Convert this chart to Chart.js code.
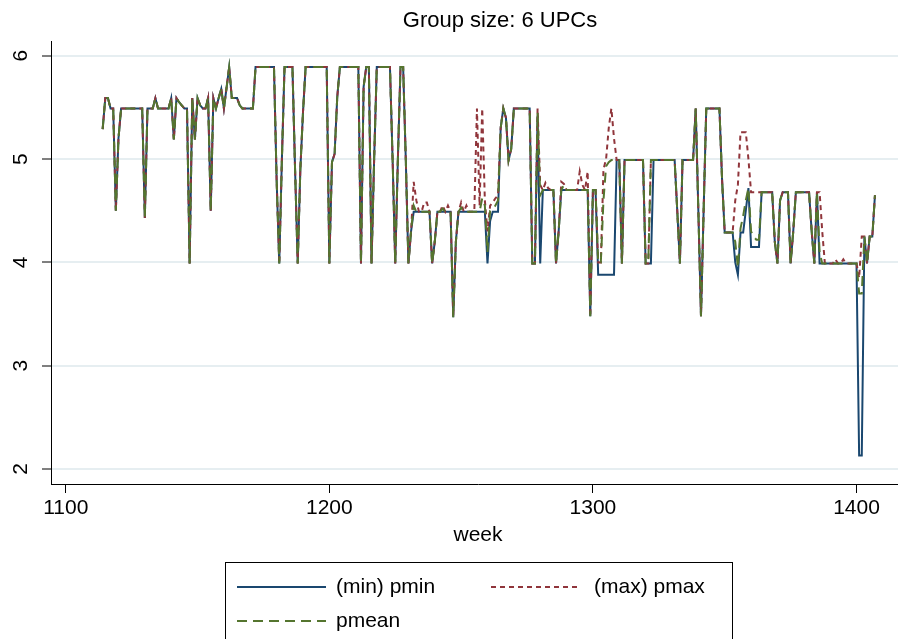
<!DOCTYPE html>
<html>
<head>
<meta charset="utf-8">
<title>Group size: 6 UPCs</title>
<script src="https://cdn.jsdelivr.net/npm/chart.js@4.4.0/dist/chart.umd.min.js"></script>
<style>
  html, body { margin: 0; padding: 0; background: #fff; overflow: hidden; }
  #wrap { width: 898px; height: 639px; overflow: hidden; }
</style>
</head>
<body>
<div id="wrap"><canvas id="chart1" width="905" height="639"></canvas></div>
<script>
// weeks 1114 .. 1407, one row of ten per line
const weeks = [
    1114, 1115, 1116, 1117, 1118, 1119, 1120, 1121, 1122, 1123,
    1124, 1125, 1126, 1127, 1128, 1129, 1130, 1131, 1132, 1133,
    1134, 1135, 1136, 1137, 1138, 1139, 1140, 1141, 1142, 1143,
    1144, 1145, 1146, 1147, 1148, 1149, 1150, 1151, 1152, 1153,
    1154, 1155, 1156, 1157, 1158, 1159, 1160, 1161, 1162, 1163,
    1164, 1165, 1166, 1167, 1168, 1169, 1170, 1171, 1172, 1173,
    1174, 1175, 1176, 1177, 1178, 1179, 1180, 1181, 1182, 1183,
    1184, 1185, 1186, 1187, 1188, 1189, 1190, 1191, 1192, 1193,
    1194, 1195, 1196, 1197, 1198, 1199, 1200, 1201, 1202, 1203,
    1204, 1205, 1206, 1207, 1208, 1209, 1210, 1211, 1212, 1213,
    1214, 1215, 1216, 1217, 1218, 1219, 1220, 1221, 1222, 1223,
    1224, 1225, 1226, 1227, 1228, 1229, 1230, 1231, 1232, 1233,
    1234, 1235, 1236, 1237, 1238, 1239, 1240, 1241, 1242, 1243,
    1244, 1245, 1246, 1247, 1248, 1249, 1250, 1251, 1252, 1253,
    1254, 1255, 1256, 1257, 1258, 1259, 1260, 1261, 1262, 1263,
    1264, 1265, 1266, 1267, 1268, 1269, 1270, 1271, 1272, 1273,
    1274, 1275, 1276, 1277, 1278, 1279, 1280, 1281, 1282, 1283,
    1284, 1285, 1286, 1287, 1288, 1289, 1290, 1291, 1292, 1293,
    1294, 1295, 1296, 1297, 1298, 1299, 1300, 1301, 1302, 1303,
    1304, 1305, 1306, 1307, 1308, 1309, 1310, 1311, 1312, 1313,
    1314, 1315, 1316, 1317, 1318, 1319, 1320, 1321, 1322, 1323,
    1324, 1325, 1326, 1327, 1328, 1329, 1330, 1331, 1332, 1333,
    1334, 1335, 1336, 1337, 1338, 1339, 1340, 1341, 1342, 1343,
    1344, 1345, 1346, 1347, 1348, 1349, 1350, 1351, 1352, 1353,
    1354, 1355, 1356, 1357, 1358, 1359, 1360, 1361, 1362, 1363,
    1364, 1365, 1366, 1367, 1368, 1369, 1370, 1371, 1372, 1373,
    1374, 1375, 1376, 1377, 1378, 1379, 1380, 1381, 1382, 1383,
    1384, 1385, 1386, 1387, 1388, 1389, 1390, 1391, 1392, 1393,
    1394, 1395, 1396, 1397, 1398, 1399, 1400, 1401, 1402, 1403,
    1404, 1405, 1406, 1407
];

const pmin = [
    5.29, 5.59, 5.59, 5.49, 5.49, 4.50, 5.20, 5.49, 5.49, 5.49,
    5.49, 5.49, 5.49, 5.49, 5.49, 5.49, 4.43, 5.49, 5.49, 5.49,
    5.59, 5.49, 5.49, 5.49, 5.49, 5.49, 5.59, 5.19, 5.59, 5.55,
    5.52, 5.49, 5.49, 3.99, 5.59, 5.19, 5.59, 5.52, 5.49, 5.49,
    5.59, 4.50, 5.59, 5.49, 5.59, 5.68, 5.49, 5.69, 5.89, 5.59,
    5.59, 5.59, 5.52, 5.49, 5.49, 5.49, 5.49, 5.49, 5.89, 5.89,
    5.89, 5.89, 5.89, 5.89, 5.89, 5.89, 4.80, 3.99, 5.00, 5.89,
    5.89, 5.89, 5.89, 4.90, 3.99, 4.90, 5.45, 5.89, 5.89, 5.89,
    5.89, 5.89, 5.89, 5.89, 5.89, 5.89, 3.99, 4.97, 5.05, 5.60,
    5.89, 5.89, 5.89, 5.89, 5.89, 5.89, 5.89, 5.89, 3.99, 5.70,
    5.89, 5.89, 3.99, 5.00, 5.89, 5.89, 5.89, 5.89, 5.89, 5.89,
    5.00, 3.99, 5.00, 5.89, 5.89, 5.00, 3.99, 4.30, 4.49, 4.49,
    4.49, 4.49, 4.49, 4.49, 4.49, 3.99, 4.20, 4.49, 4.49, 4.49,
    4.49, 4.49, 4.49, 3.47, 4.20, 4.49, 4.49, 4.49, 4.49, 4.49,
    4.49, 4.49, 4.49, 4.49, 4.49, 4.49, 3.99, 4.40, 4.49, 4.49,
    4.49, 5.30, 5.49, 5.40, 4.99, 5.10, 5.49, 5.49, 5.49, 5.49,
    5.49, 5.49, 5.49, 3.99, 3.99, 5.42, 3.99, 4.70, 4.70, 4.70,
    4.70, 4.70, 3.99, 4.30, 4.70, 4.70, 4.70, 4.70, 4.70, 4.70,
    4.70, 4.70, 4.70, 4.70, 4.70, 3.48, 4.70, 4.70, 3.88, 3.88,
    3.88, 3.88, 3.88, 3.88, 3.88, 4.99, 4.99, 3.99, 4.99, 4.99,
    4.99, 4.99, 4.99, 4.99, 4.99, 4.99, 3.99, 3.99, 3.99, 4.99,
    4.99, 4.99, 4.99, 4.99, 4.99, 4.99, 4.99, 4.99, 4.50, 3.99,
    4.99, 4.99, 4.99, 4.99, 4.99, 5.49, 4.50, 3.48, 4.50, 5.49,
    5.49, 5.49, 5.49, 5.49, 5.49, 4.80, 4.29, 4.29, 4.29, 4.29,
    4.00, 3.88, 4.29, 4.29, 4.50, 4.72, 4.15, 4.15, 4.15, 4.15,
    4.68, 4.68, 4.68, 4.68, 4.68, 4.20, 3.99, 4.60, 4.68, 4.68,
    4.68, 3.99, 4.30, 4.68, 4.68, 4.68, 4.68, 4.68, 4.68, 4.30,
    3.99, 4.68, 3.99, 3.99, 3.99, 3.99, 3.99, 3.99, 3.99, 3.99,
    3.99, 3.99, 3.99, 3.99, 3.99, 3.99, 3.99, 2.13, 2.13, 4.25,
    3.99, 4.25, 4.25, 4.65
];

const pmax = [
    5.29, 5.59, 5.59, 5.49, 5.49, 4.50, 5.20, 5.49, 5.49, 5.49,
    5.49, 5.49, 5.49, 5.49, 5.49, 5.49, 4.43, 5.49, 5.49, 5.49,
    5.59, 5.49, 5.49, 5.49, 5.49, 5.49, 5.59, 5.19, 5.59, 5.55,
    5.52, 5.49, 5.49, 3.99, 5.59, 5.19, 5.59, 5.52, 5.49, 5.49,
    5.59, 4.50, 5.59, 5.49, 5.59, 5.68, 5.49, 5.69, 5.89, 5.59,
    5.59, 5.59, 5.52, 5.49, 5.49, 5.49, 5.49, 5.49, 5.89, 5.89,
    5.89, 5.89, 5.89, 5.89, 5.89, 5.89, 4.80, 3.99, 5.00, 5.89,
    5.89, 5.89, 5.89, 4.90, 3.99, 4.90, 5.45, 5.89, 5.89, 5.89,
    5.89, 5.89, 5.89, 5.89, 5.89, 5.89, 3.99, 4.97, 5.05, 5.60,
    5.89, 5.89, 5.89, 5.89, 5.89, 5.89, 5.89, 5.89, 3.99, 5.70,
    5.89, 5.89, 3.99, 5.00, 5.89, 5.89, 5.89, 5.89, 5.89, 5.89,
    5.00, 3.99, 5.00, 5.89, 5.89, 5.00, 3.99, 4.30, 4.78, 4.60,
    4.49, 4.49, 4.58, 4.58, 4.49, 3.99, 4.20, 4.49, 4.49, 4.55,
    4.49, 4.55, 4.49, 3.47, 4.20, 4.49, 4.58, 4.49, 4.55, 4.49,
    4.49, 4.49, 5.49, 4.55, 5.49, 4.60, 4.30, 4.55, 4.58, 4.62,
    4.65, 5.30, 5.49, 5.40, 4.99, 5.10, 5.49, 5.49, 5.49, 5.49,
    5.49, 5.49, 5.49, 3.99, 3.99, 5.49, 4.75, 4.70, 4.77, 4.72,
    4.70, 4.70, 3.99, 4.30, 4.78, 4.76, 4.70, 4.70, 4.70, 4.70,
    4.70, 4.88, 4.75, 4.70, 4.88, 3.48, 4.70, 4.70, 4.00, 4.00,
    4.90, 5.00, 5.30, 5.49, 5.20, 4.99, 4.99, 3.99, 4.99, 4.99,
    4.99, 4.99, 4.99, 4.99, 4.99, 4.99, 3.99, 3.99, 4.99, 4.99,
    4.99, 4.99, 4.99, 4.99, 4.99, 4.99, 4.99, 4.99, 4.50, 3.99,
    4.99, 4.99, 4.99, 4.99, 4.99, 5.49, 4.50, 3.48, 4.50, 5.49,
    5.49, 5.49, 5.49, 5.49, 5.49, 4.80, 4.29, 4.29, 4.29, 4.29,
    4.60, 4.75, 5.26, 5.26, 5.26, 5.00, 4.68, 4.68, 4.68, 4.68,
    4.68, 4.68, 4.68, 4.68, 4.68, 4.20, 3.99, 4.60, 4.68, 4.68,
    4.68, 3.99, 4.30, 4.68, 4.68, 4.68, 4.68, 4.68, 4.68, 4.30,
    3.99, 4.68, 4.68, 4.30, 3.99, 3.99, 3.99, 3.99, 4.03, 3.99,
    3.99, 4.03, 3.99, 3.99, 3.99, 3.99, 3.99, 3.85, 4.25, 4.25,
    3.99, 4.25, 4.25, 4.65
];

const pmean = [
    5.29, 5.59, 5.59, 5.49, 5.49, 4.50, 5.20, 5.49, 5.49, 5.49,
    5.49, 5.49, 5.49, 5.49, 5.49, 5.49, 4.43, 5.49, 5.49, 5.49,
    5.59, 5.49, 5.49, 5.49, 5.49, 5.49, 5.59, 5.19, 5.59, 5.55,
    5.52, 5.49, 5.49, 3.99, 5.59, 5.19, 5.59, 5.52, 5.49, 5.49,
    5.59, 4.50, 5.59, 5.49, 5.59, 5.68, 5.49, 5.69, 5.89, 5.59,
    5.59, 5.59, 5.52, 5.49, 5.49, 5.49, 5.49, 5.49, 5.89, 5.89,
    5.89, 5.89, 5.89, 5.89, 5.89, 5.89, 4.80, 3.99, 5.00, 5.89,
    5.89, 5.89, 5.89, 4.90, 3.99, 4.90, 5.45, 5.89, 5.89, 5.89,
    5.89, 5.89, 5.89, 5.89, 5.89, 5.89, 3.99, 4.97, 5.05, 5.60,
    5.89, 5.89, 5.89, 5.89, 5.89, 5.89, 5.89, 5.89, 3.99, 5.70,
    5.89, 5.89, 3.99, 5.00, 5.89, 5.89, 5.89, 5.89, 5.89, 5.89,
    5.00, 3.99, 5.00, 5.89, 5.89, 5.00, 3.99, 4.30, 4.55, 4.49,
    4.49, 4.49, 4.49, 4.49, 4.49, 3.99, 4.20, 4.49, 4.49, 4.52,
    4.49, 4.49, 4.49, 3.47, 4.20, 4.49, 4.53, 4.49, 4.49, 4.49,
    4.49, 4.49, 4.49, 4.49, 4.62, 4.55, 4.10, 4.50, 4.52, 4.55,
    4.60, 5.30, 5.49, 5.40, 4.99, 5.10, 5.49, 5.49, 5.49, 5.49,
    5.49, 5.49, 5.49, 3.99, 3.99, 5.45, 4.65, 4.70, 4.70, 4.70,
    4.70, 4.70, 3.99, 4.30, 4.70, 4.75, 4.70, 4.70, 4.70, 4.70,
    4.70, 4.70, 4.70, 4.70, 4.70, 3.48, 4.70, 4.70, 4.00, 4.00,
    4.60, 4.93, 4.97, 4.99, 4.99, 4.99, 4.99, 3.99, 4.99, 4.99,
    4.99, 4.99, 4.99, 4.99, 4.99, 4.99, 3.99, 3.99, 4.99, 4.99,
    4.99, 4.99, 4.99, 4.99, 4.99, 4.99, 4.99, 4.99, 4.50, 3.99,
    4.99, 4.99, 4.99, 4.99, 4.99, 5.49, 4.50, 3.48, 4.50, 5.49,
    5.49, 5.49, 5.49, 5.49, 5.49, 4.80, 4.29, 4.29, 4.29, 4.29,
    4.20, 3.95, 4.33, 4.45, 4.60, 4.72, 4.30, 4.25, 4.22, 4.22,
    4.68, 4.68, 4.68, 4.68, 4.68, 4.20, 3.99, 4.60, 4.68, 4.68,
    4.68, 3.99, 4.30, 4.68, 4.68, 4.68, 4.68, 4.68, 4.68, 4.30,
    3.99, 4.68, 4.10, 3.99, 3.99, 3.99, 3.99, 3.99, 3.99, 3.99,
    3.99, 3.99, 3.99, 3.99, 3.99, 3.99, 3.99, 3.70, 3.70, 4.25,
    3.99, 4.25, 4.25, 4.65
];

const seriesNames = ['(min) pmin', '(max) pmax', 'pmean'];
const xTickValues = [1100, 1200, 1300, 1400];
const yTickValues = [2, 3, 4, 5, 6];
const chartTitle = 'Group size: 6 UPCs';
const xTitle = 'week';

const FONT = "'Liberation Sans', Arial, sans-serif";
const navy = '#1a476f';
const maroon = '#90353b';
const green = '#55752f';

Chart.defaults.font.family = FONT;
Chart.defaults.color = '#000';

function toPoints(values) {
    return weeks.map(function (w, i) { return { x: w, y: values[i] }; });
}

// title sits a little right of the plot centre, as in the Stata graph
const stataTitle = {
    id: 'stataTitle',
    afterDraw: function (chart) {
        const c = chart.ctx;
        const mid = (chart.chartArea.left + chart.chartArea.right) / 2;
        c.save();
        c.font = '22px ' + FONT;
        c.fillStyle = '#000';
        c.textAlign = 'center';
        c.textBaseline = 'middle';
        c.fillText(chartTitle, mid + 22, 21);
        c.restore();
    }
};

// Stata style legend: boxed, two columns, drawn under the axis title
const stataLegend = {
    id: 'stataLegend',
    afterDraw: function (chart) {
        const c = chart.ctx;
        const mid = (chart.chartArea.left + chart.chartArea.right) / 2;
        const left = Math.round(mid - 253.5) + 0.5;
        const right = Math.round(mid + 254) + 0.5;
        const top = 562.5;

        c.save();
        c.strokeStyle = '#000';
        c.lineWidth = 1;
        c.setLineDash([]);
        c.strokeRect(left, top, right - left, 120);

        const items = [
            { name: seriesNames[0], color: navy, dash: [], x: 11.5, len: 89, tx: 110.5, y: 587 },
            { name: seriesNames[1], color: maroon, dash: [5, 4], x: 265.5, len: 86, tx: 368.5, y: 587 },
            { name: seriesNames[2], color: green, dash: [10, 6], x: 11.5, len: 89, tx: 110.5, y: 621 }
        ];
        c.font = '21px ' + FONT;
        c.textBaseline = 'middle';
        c.textAlign = 'left';
        items.forEach(function (it) {
            c.strokeStyle = it.color;
            c.lineWidth = 2;
            c.setLineDash(it.dash);
            c.beginPath();
            c.moveTo(left + it.x, it.y);
            c.lineTo(left + it.x + it.len, it.y);
            c.stroke();
            c.fillStyle = '#000';
            c.fillText(it.name, left + it.tx, it.y);
        });
        c.restore();
    }
};

const ctx = document.getElementById('chart1').getContext('2d');
window.chart1 = new Chart(ctx, {
    type: 'line',
    data: {
        datasets: [
            {
                label: seriesNames[2],
                data: toPoints(pmean),
                borderColor: green,
                borderWidth: 2,
                borderDash: [10, 6],
                pointRadius: 0,
                tension: 0,
                order: 0
            },
            {
                label: seriesNames[1],
                data: toPoints(pmax),
                borderColor: maroon,
                borderWidth: 2,
                borderDash: [5, 4],
                pointRadius: 0,
                tension: 0,
                order: 1
            },
            {
                label: seriesNames[0],
                data: toPoints(pmin),
                borderColor: navy,
                borderWidth: 2,
                pointRadius: 0,
                tension: 0,
                order: 2
            }
        ]
    },
    options: {
        responsive: false,
        animation: false,
        devicePixelRatio: 1,
        layout: { padding: { top: 41.7, left: 0, right: 0, bottom: 0 } },
        plugins: {
            legend: { display: false },
            tooltip: { enabled: false },
            title: { display: false }
        },
        scales: {
            x: {
                type: 'linear',
                min: 1094.4,
                max: 1418.4,
                afterBuildTicks: function (scale) {
                    scale.ticks = xTickValues.map(function (v) { return { value: v }; });
                },
                afterFit: function (scale) { scale.height = 155; },
                grid: { drawOnChartArea: false, drawTicks: true, tickLength: 9, tickColor: '#000', tickWidth: 1 },
                border: { display: true, color: '#000', width: 1 },
                ticks: {
                    color: '#000',
                    font: { size: 21 },
                    padding: 3,
                    maxRotation: 0,
                    autoSkip: false,
                    callback: function (v) { return String(v); }
                },
                title: {
                    display: true,
                    text: xTitle,
                    color: '#000',
                    font: { size: 21 },
                    padding: { top: 0, bottom: 91 }
                }
            },
            y: {
                type: 'linear',
                min: 1.855,
                max: 6.136,
                afterBuildTicks: function (scale) {
                    scale.ticks = yTickValues.map(function (v) { return { value: v }; });
                },
                afterFit: function (scale) { scale.width = 51; },
                grid: { color: '#e6eef1', lineWidth: 2, drawTicks: true, tickLength: 9, tickColor: '#000', tickWidth: 1 },
                border: { display: true, color: '#000', width: 1 },
                ticks: {
                    color: '#000',
                    font: { size: 21 },
                    padding: 15,
                    minRotation: 90,
                    maxRotation: 90,
                    crossAlign: 'center',
                    callback: function (v) { return String(v); }
                }
            }
        }
    },
    plugins: [stataTitle, stataLegend]
});
</script>
</body>
</html>
